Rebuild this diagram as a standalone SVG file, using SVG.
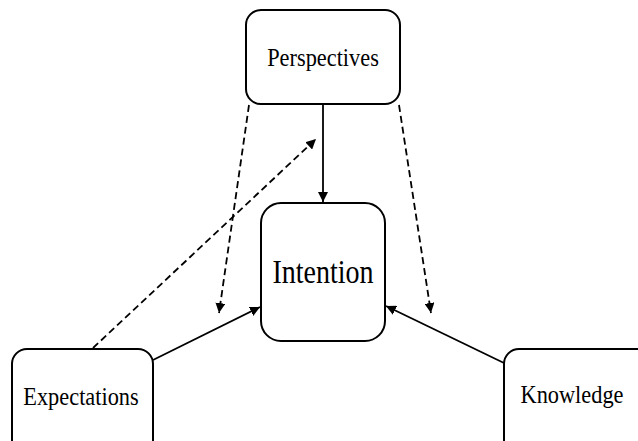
<svg xmlns="http://www.w3.org/2000/svg" width="638" height="441" viewBox="0 0 638 441">
  <style>
    .box { fill: #ffffff; stroke: #000000; stroke-width: 2; }
    .lbl { font-family: "Liberation Serif", "Times New Roman", serif; fill: #000000; text-anchor: middle; }
    .line { stroke: #000000; stroke-width: 1.8; fill: none; }
    .dash { stroke-dasharray: 7 4; }
  </style>
  <defs>
    <marker id="arrow" viewBox="0 0 10 10" refX="10" refY="5" markerWidth="10" markerHeight="10" markerUnits="userSpaceOnUse" orient="auto">
      <path d="M0,0 L10,5 L0,10 z" fill="#000000"/>
    </marker>
  </defs>
  <rect width="638" height="441" fill="#ffffff"/>

  <g id="connectors">
    <line class="line" x1="323" y1="104" x2="323" y2="202" marker-end="url(#arrow)"/>
    <line class="line dash" x1="249" y1="105" x2="219" y2="313" marker-end="url(#arrow)"/>
    <line class="line dash" x1="399" y1="105" x2="431" y2="313" marker-end="url(#arrow)"/>
    <line class="line dash" x1="93" y1="348" x2="316" y2="139" marker-end="url(#arrow)"/>
    <line class="line" x1="153" y1="360" x2="260" y2="307" marker-end="url(#arrow)"/>
    <line class="line" x1="504" y1="363" x2="386" y2="306" marker-end="url(#arrow)"/>
  </g>

  <!-- labels are set in a slightly condensed serif -->
  <g id="perspectives">
    <rect class="box" x="246" y="10" width="154" height="94" rx="15"/>
    <text class="lbl" transform="translate(323,66) scale(0.86,1)" font-size="26">Perspectives</text>
  </g>

  <g id="intention">
    <rect class="box" x="261" y="203" width="124" height="138" rx="20"/>
    <text class="lbl" transform="translate(323,283) scale(0.85,1)" font-size="33">Intention</text>
  </g>

  <g id="expectations">
    <rect class="box" x="12" y="349" width="141" height="110" rx="15"/>
    <text class="lbl" transform="translate(81,405) scale(0.86,1)" font-size="26">Expectations</text>
  </g>

  <g id="knowledge">
    <rect class="box" x="504" y="349" width="150" height="110" rx="15"/>
    <text class="lbl" transform="translate(572,403) scale(0.86,1)" font-size="26">Knowledge</text>
  </g>
</svg>
